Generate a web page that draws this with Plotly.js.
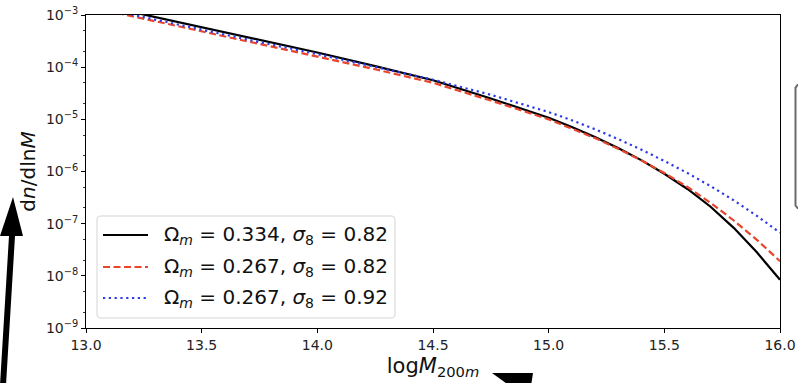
<!DOCTYPE html>
<html>
<head>
<meta charset="utf-8">
<script src="https://cdn.plot.ly/plotly-3.0.1.min.js"></script>
<style>
html,body{margin:0;padding:0;background:#fff;}
#chart{width:798px;height:383px;}
</style>
</head>
<body>
<div id="chart"></div>
<script>
// log10 of halo mass M_200m
var logM = [13.0, 13.25, 13.5, 13.75, 14.0, 14.25, 14.5, 14.75, 15.0, 15.1, 15.2, 15.3, 15.4, 15.5, 15.6, 15.7, 15.8, 15.9, 16.0];

// dn/dlnM for Omega_m = 0.334, sigma_8 = 0.82
var dndlnM_a = [1.78e-3, 1.02e-3, 5.75e-4, 3.31e-4, 1.91e-4, 1.05e-4, 5.62e-5, 2.51e-5, 1.07e-5,
                7.11e-6, 4.57e-6, 2.82e-6, 1.65e-6, 9.06e-7, 4.62e-7, 2.11e-7, 8.32e-8, 2.82e-8, 8.41e-9];
// dn/dlnM for Omega_m = 0.267, sigma_8 = 0.82
var dndlnM_b = [1.48e-3, 8.51e-4, 4.79e-4, 2.82e-4, 1.62e-4, 9.12e-5, 5.01e-5, 2.29e-5, 1.00e-5,
                6.72e-6, 4.37e-6, 2.73e-6, 1.64e-6, 9.38e-7, 5.04e-7, 2.51e-7, 1.15e-7, 4.90e-8, 1.91e-8];
// dn/dlnM for Omega_m = 0.267, sigma_8 = 0.92
var dndlnM_c = [1.58e-3, 9.12e-4, 5.13e-4, 3.02e-4, 1.78e-4, 1.00e-4, 5.75e-5, 2.95e-5, 1.38e-5,
                9.61e-6, 6.46e-6, 4.19e-6, 2.63e-6, 1.59e-6, 9.33e-7, 5.25e-7, 2.80e-7, 1.41e-7, 6.71e-8];

var seriesNames = [
  'Ω<sub><i>m</i></sub> = 0.334, <i>σ</i><sub>8</sub> = 0.82',
  'Ω<sub><i>m</i></sub> = 0.267, <i>σ</i><sub>8</sub> = 0.82',
  'Ω<sub><i>m</i></sub> = 0.267, <i>σ</i><sub>8</sub> = 0.92'
];
var seriesColors = ['#000000', '#e8452c', '#2b3ae8'];
var seriesDash = ['solid', '7px,3.5px', '2.2px,3.6px'];

var xTickVals = [13.0, 13.5, 14.0, 14.5, 15.0, 15.5, 16.0];
var xTickText = ['13.0', '13.5', '14.0', '14.5', '15.0', '15.5', '16.0'];
var yTickVals = [1e-9, 1e-8, 1e-7, 1e-6, 1e-5, 1e-4, 1e-3];
var yTickText = ['10<sup>−9</sup>', '10<sup>−8</sup>', '10<sup>−7</sup>', '10<sup>−6</sup>', '10<sup>−5</sup>', '10<sup>−4</sup>', '10<sup>−3</sup>'];

var FONT = 'DejaVu Sans, sans-serif';
var ys = [dndlnM_a, dndlnM_b, dndlnM_c];

var traces = ys.map(function(y, i){
  return {x: logM, y: y, name: seriesNames[i], mode: 'lines', showlegend: false,
          line: {color: seriesColors[i], width: 2.2, dash: seriesDash[i]}};
});

// decoration helpers: convert page pixel positions to paper coordinates
var L = 86, R = 780, T = 15, B = 328;
function px(x){ return (x - L) / (R - L); }
function py(y){ return (B - y) / (B - T); }
function P(x, y){ return px(x).toFixed(5) + ',' + py(y).toFixed(5); }
function poly(pts){
  return pts.map(function(p, i){ return (i ? 'L' : 'M') + P(p[0], p[1]); }).join(' ') + ' Z';
}

var shapes = [
  // arrow at the lower left
  {type: 'path', xref: 'paper', yref: 'paper', layer: 'above',
   path: poly([[0,385],[6,385],[15,236],[23,236],[13,197],[0,236],[9,236]]),
   fillcolor: '#000', line: {color: '#000', width: 0}},
  // arrow head at the bottom centre
  {type: 'path', xref: 'paper', yref: 'paper', layer: 'above',
   path: poly([[492,373],[533,373],[531,386],[510,386]]),
   fillcolor: '#000', line: {color: '#000', width: 0}},
  // partial box at the right edge
  {type: 'path', xref: 'paper', yref: 'paper', layer: 'above',
   path: 'M' + P(800,85) + ' L' + P(797.5,85) + ' L' + P(795.5,87.5) + ' L' + P(795.5,205.5) + ' L' + P(797.5,208) + ' L' + P(800,208),
   line: {color: '#6a6a6a', width: 2}},
  // legend frame (rounded)
  {type: 'path', xref: 'paper', yref: 'paper', layer: 'above',
   path: 'M' + P(101,216) + ' L' + P(391,216) + ' Q' + P(395,216) + ' ' + P(395,220) + ' L' + P(395,314) + ' Q' + P(395,318) + ' ' + P(391,318) +
         ' L' + P(101,318) + ' Q' + P(97,318) + ' ' + P(97,314) + ' L' + P(97,220) + ' Q' + P(97,216) + ' ' + P(101,216) + ' Z',
   fillcolor: 'rgba(255,255,255,0.85)', line: {color: '#d4d4d4', width: 1}}
];

var annotations = [];
var rowY = [235, 267, 298];
for (var i = 0; i < 3; i++) {
  shapes.push({type: 'line', xref: 'paper', yref: 'paper', layer: 'above',
    x0: px(103), x1: px(148), y0: py(rowY[i]), y1: py(rowY[i]),
    line: {color: seriesColors[i], width: 2.2, dash: seriesDash[i]}});
  annotations.push({xref: 'paper', yref: 'paper', x: px(162), y: py(rowY[i]),
    xanchor: 'left', yanchor: 'middle', showarrow: false, text: seriesNames[i],
    font: {family: FONT, size: 20, color: '#111'}});
}

var layout = {
  width: 798, height: 383,
  margin: {l: L, r: 798 - R, t: T, b: 383 - B},
  paper_bgcolor: '#ffffff', plot_bgcolor: '#ffffff',
  font: {family: FONT, color: '#222', size: 14},
  showlegend: false,
  xaxis: {
    range: [13.0, 16.0], tickmode: 'array', tickvals: xTickVals, ticktext: xTickText,
    ticks: 'outside', ticklen: 4, tickwidth: 1, tickcolor: '#000',
    showline: true, linecolor: '#000', linewidth: 1, mirror: true,
    showgrid: false, zeroline: false,
    tickfont: {family: FONT, size: 14, color: '#222'},
    title: {text: 'log<i>M</i><sub>200<i>m</i></sub>', font: {family: FONT, size: 21, color: '#111'}, standoff: 6}
  },
  yaxis: {
    type: 'log', range: [-9, -3], tickmode: 'array', tickvals: yTickVals, ticktext: yTickText,
    ticks: 'outside', ticklen: 4, tickwidth: 1, tickcolor: '#000',
    minor: {ticks: 'outside', ticklen: 2, tickwidth: 0.8, tickcolor: '#000', showgrid: false},
    showline: true, linecolor: '#000', linewidth: 1, mirror: true,
    showgrid: false, zeroline: false,
    tickfont: {family: FONT, size: 14, color: '#222'},
    title: {text: 'd<i>n</i>/dln<i>M</i>', font: {family: FONT, size: 20, color: '#111'}, standoff: 4}
  },
  shapes: shapes,
  annotations: annotations
};

Plotly.newPlot('chart', traces, layout, {staticPlot: true, displayModeBar: false});
</script>
</body>
</html>
